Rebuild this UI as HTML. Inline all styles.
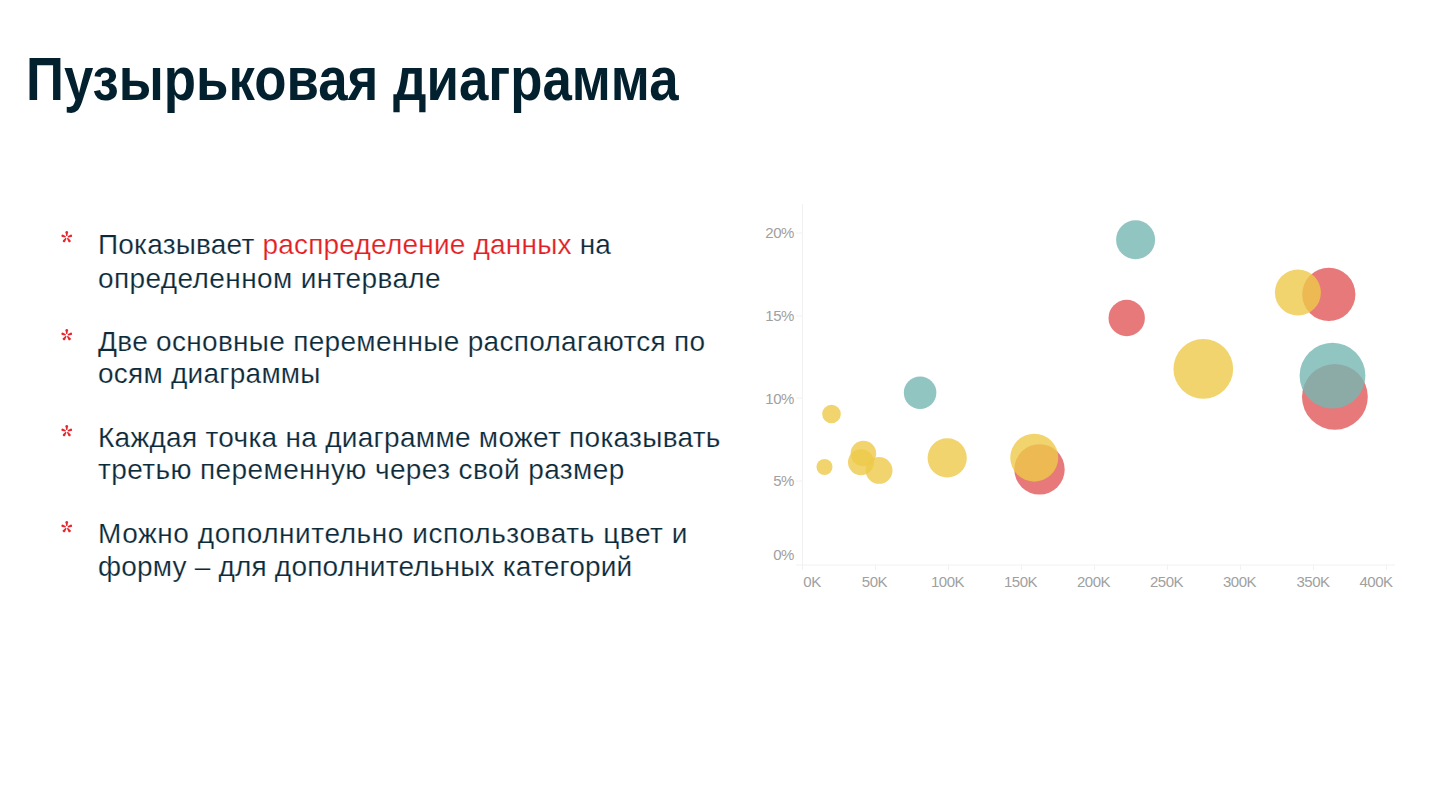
<!DOCTYPE html>
<html lang="ru">
<head>
<meta charset="utf-8">
<style>
html,body{margin:0;padding:0;background:#fff;}
body{width:1429px;height:796px;position:relative;overflow:hidden;font-family:"Liberation Sans",sans-serif;}
.t{position:absolute;white-space:nowrap;line-height:1;}
#title{left:26px;top:49.25px;font-size:61px;font-weight:bold;color:#03202e;transform:scaleX(0.865);transform-origin:0 0;}
.ln{font-size:28px;color:#0b2a3a;left:98px;-webkit-text-stroke:0.2px #fff;}
.red{color:#e31e24;}
.ast{position:absolute;left:59px;width:16px;height:16px;}
svg#chart{position:absolute;left:0;top:0;}
.yl{font-family:"Liberation Sans",sans-serif;font-size:15px;fill:#a0a0a0;letter-spacing:-0.45px;}
</style>
</head>
<body>
<div class="t" id="title">Пузырьковая диаграмма</div>

<div class="t ln" id="l1" style="top:230.8px;letter-spacing:0.206px">Показывает <span class="red">распределение данных</span> на</div>
<div class="t ln" id="l2" style="top:264.6px;letter-spacing:0.39px">определенном интервале</div>
<div class="t ln" id="l3" style="top:327.7px;letter-spacing:0.303px">Две основные переменные располагаются по</div>
<div class="t ln" id="l4" style="top:360.4px;letter-spacing:0.246px">осям диаграммы</div>
<div class="t ln" id="l5" style="top:423.8px;letter-spacing:0.29px">Каждая точка на диаграмме может показывать</div>
<div class="t ln" id="l6" style="top:456.3px;letter-spacing:0.403px">третью переменную через свой размер</div>
<div class="t ln" id="l7" style="top:519.7px;letter-spacing:0.571px">Можно дополнительно использовать цвет и</div>
<div class="t ln" id="l8" style="top:553.3px;letter-spacing:0.197px">форму – для дополнительных категорий</div>


<svg class="ast" style="top:229px" width="16" height="16"><g transform="translate(7.76,8.2)" fill="#e8262b"><path transform="rotate(0)" d="M-0.55,-1.1 L0.55,-1.1 L1.3,-4.9 A1.3,1.3 0 0 0 -1.3,-4.9 Z"/><path transform="rotate(72)" d="M-0.55,-1.1 L0.55,-1.1 L1.3,-4.3 A1.3,1.3 0 0 0 -1.3,-4.3 Z"/><path transform="rotate(-72)" d="M-0.55,-1.1 L0.55,-1.1 L1.3,-4.3 A1.3,1.3 0 0 0 -1.3,-4.3 Z"/><path transform="rotate(144)" d="M-0.55,-1.1 L0.55,-1.1 L1.3,-4.6000000000000005 A1.3,1.3 0 0 0 -1.3,-4.6000000000000005 Z"/><path transform="rotate(-144)" d="M-0.55,-1.1 L0.55,-1.1 L1.3,-4.6000000000000005 A1.3,1.3 0 0 0 -1.3,-4.6000000000000005 Z"/></g></svg>
<svg class="ast" style="top:327px" width="16" height="16"><g transform="translate(7.76,8.2)" fill="#e8262b"><path transform="rotate(0)" d="M-0.55,-1.1 L0.55,-1.1 L1.3,-4.9 A1.3,1.3 0 0 0 -1.3,-4.9 Z"/><path transform="rotate(72)" d="M-0.55,-1.1 L0.55,-1.1 L1.3,-4.3 A1.3,1.3 0 0 0 -1.3,-4.3 Z"/><path transform="rotate(-72)" d="M-0.55,-1.1 L0.55,-1.1 L1.3,-4.3 A1.3,1.3 0 0 0 -1.3,-4.3 Z"/><path transform="rotate(144)" d="M-0.55,-1.1 L0.55,-1.1 L1.3,-4.6000000000000005 A1.3,1.3 0 0 0 -1.3,-4.6000000000000005 Z"/><path transform="rotate(-144)" d="M-0.55,-1.1 L0.55,-1.1 L1.3,-4.6000000000000005 A1.3,1.3 0 0 0 -1.3,-4.6000000000000005 Z"/></g></svg>
<svg class="ast" style="top:423px" width="16" height="16"><g transform="translate(7.76,8.2)" fill="#e8262b"><path transform="rotate(0)" d="M-0.55,-1.1 L0.55,-1.1 L1.3,-4.9 A1.3,1.3 0 0 0 -1.3,-4.9 Z"/><path transform="rotate(72)" d="M-0.55,-1.1 L0.55,-1.1 L1.3,-4.3 A1.3,1.3 0 0 0 -1.3,-4.3 Z"/><path transform="rotate(-72)" d="M-0.55,-1.1 L0.55,-1.1 L1.3,-4.3 A1.3,1.3 0 0 0 -1.3,-4.3 Z"/><path transform="rotate(144)" d="M-0.55,-1.1 L0.55,-1.1 L1.3,-4.6000000000000005 A1.3,1.3 0 0 0 -1.3,-4.6000000000000005 Z"/><path transform="rotate(-144)" d="M-0.55,-1.1 L0.55,-1.1 L1.3,-4.6000000000000005 A1.3,1.3 0 0 0 -1.3,-4.6000000000000005 Z"/></g></svg>
<svg class="ast" style="top:519px" width="16" height="16"><g transform="translate(7.76,8.2)" fill="#e8262b"><path transform="rotate(0)" d="M-0.55,-1.1 L0.55,-1.1 L1.3,-4.9 A1.3,1.3 0 0 0 -1.3,-4.9 Z"/><path transform="rotate(72)" d="M-0.55,-1.1 L0.55,-1.1 L1.3,-4.3 A1.3,1.3 0 0 0 -1.3,-4.3 Z"/><path transform="rotate(-72)" d="M-0.55,-1.1 L0.55,-1.1 L1.3,-4.3 A1.3,1.3 0 0 0 -1.3,-4.3 Z"/><path transform="rotate(144)" d="M-0.55,-1.1 L0.55,-1.1 L1.3,-4.6000000000000005 A1.3,1.3 0 0 0 -1.3,-4.6000000000000005 Z"/><path transform="rotate(-144)" d="M-0.55,-1.1 L0.55,-1.1 L1.3,-4.6000000000000005 A1.3,1.3 0 0 0 -1.3,-4.6000000000000005 Z"/></g></svg>
<svg id="chart" width="1429" height="796" viewBox="0 0 1429 796">
  <g stroke="#f1f1f1" stroke-width="1" fill="none">
    <line x1="802.5" y1="204" x2="802.5" y2="570"/>
    <line x1="796" y1="565" x2="1395" y2="565"/>
  </g>
  <g stroke="#f1f1f1" stroke-width="1">
    <line x1="796" y1="233" x2="802" y2="233"/>
    <line x1="796" y1="316" x2="802" y2="316"/>
    <line x1="796" y1="398" x2="802" y2="398"/>
    <line x1="796" y1="481" x2="802" y2="481"/>
    <line x1="875.5" y1="565" x2="875.5" y2="570"/>
    <line x1="948.5" y1="565" x2="948.5" y2="570"/>
    <line x1="1021.5" y1="565" x2="1021.5" y2="570"/>
    <line x1="1094.5" y1="565" x2="1094.5" y2="570"/>
    <line x1="1167.5" y1="565" x2="1167.5" y2="570"/>
    <line x1="1240.5" y1="565" x2="1240.5" y2="570"/>
    <line x1="1313.5" y1="565" x2="1313.5" y2="570"/>
    <line x1="1386.5" y1="565" x2="1386.5" y2="570"/>
  </g>
  <g class="yl" text-anchor="end">
    <text x="794" y="238">20%</text>
    <text x="794" y="321">15%</text>
    <text x="794" y="403.5">10%</text>
    <text x="794" y="486">5%</text>
    <text x="794" y="559.5">0%</text>
  </g>
  <g class="yl" text-anchor="middle">
    <text x="812" y="586.5">0K</text>
    <text x="874.5" y="586.5">50K</text>
    <text x="947.5" y="586.5">100K</text>
    <text x="1020.5" y="586.5">150K</text>
    <text x="1093.5" y="586.5">200K</text>
    <text x="1166.5" y="586.5">250K</text>
    <text x="1239.5" y="586.5">300K</text>
    <text x="1313" y="586.5">350K</text>
    <text x="1376" y="586.5">400K</text>
  </g>
  <g fill-opacity="0.8">
    <circle cx="1039.5" cy="469.4" r="25.2" fill="#e15759"/>
    <circle cx="1126.7" cy="318" r="18.2" fill="#e15759"/>
    <circle cx="1328.8" cy="294.4" r="26.6" fill="#e15759"/>
    <circle cx="1334.9" cy="396.8" r="32.9" fill="#e15759"/>
    <circle cx="831.5" cy="414" r="9.3" fill="#edc948"/>
    <circle cx="824.5" cy="467" r="8" fill="#edc948"/>
    <circle cx="863.4" cy="453.5" r="12.8" fill="#edc948"/>
    <circle cx="861" cy="462.3" r="13" fill="#edc948"/>
    <circle cx="879.1" cy="470.4" r="13.4" fill="#edc948"/>
    <circle cx="947.2" cy="457.9" r="19.6" fill="#edc948"/>
    <circle cx="1034.25" cy="457.65" r="24" fill="#edc948"/>
    <circle cx="1203.3" cy="368.9" r="29.85" fill="#edc948"/>
    <circle cx="1297.9" cy="292.6" r="23" fill="#edc948"/>
    <circle cx="920.1" cy="392.7" r="16.25" fill="#76b7b2"/>
    <circle cx="1135.6" cy="239.7" r="19.5" fill="#76b7b2"/>
    <circle cx="1332.5" cy="375.7" r="32.9" fill="#76b7b2"/>
  </g>
</svg>
</body>
</html>
